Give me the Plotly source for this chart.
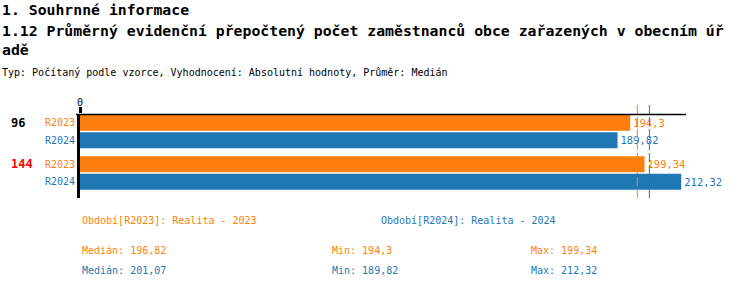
import numpy as np
import plotly.graph_objects as go

# ---------------- data ----------------
groups = ["96", "144"]
group_colors = ["#000000", "#ff0000"]
series_names = ["R2023", "R2024"]
series_desc = ["Období[R2023]: Realita - 2023", "Období[R2024]: Realita - 2024"]
series_colors = ["#ff7f0e", "#1f77b4"]
values_r2023 = [194.3, 199.34]
values_r2024 = [189.82, 212.32]
series_values = [values_r2023, values_r2024]
x_tick_values = [0]
x_tick_labels = ["0"]

title1 = "1. Souhrnné informace"
title2a = "1.12 Průměrný evidenční přepočtený počet zaměstnanců obce zařazených v obecním úř"
title2b = "adě"
subtitle = "Typ: Počítaný podle vzorce, Vyhodnocení: Absolutní hodnoty, Průměr: Medián"

# ---------------- layout geometry ----------------
W, H = 750, 288
L, R, T, B = 80, 686, 114, 198
FONT = "DejaVu Sans Mono"
XMAX = 214
BAR_STEP = 17.5
GROUP_STEP = 41.5
FIRST = 8.75
BAR_W = 16


def px(x):
    return (x - L) / (R - L)


def py(y):
    return (B - y) / (B - T)


def fmt(v):
    s = f"{v:.2f}".rstrip("0").rstrip(".")
    return s.replace(".", ",")


fig = go.Figure()
annotations = []

for si, (name, color, vals) in enumerate(zip(series_names, series_colors, series_values)):
    ys = [FIRST + gi * GROUP_STEP + si * BAR_STEP for gi in range(len(groups))]
    fig.add_trace(go.Bar(
        x=vals, y=ys, orientation="h", width=BAR_W,
        marker=dict(color=color, line=dict(width=0)),
        text=[fmt(v) for v in vals], textposition="outside",
        textfont=dict(family=FONT, size=10.5, color=color),
        constraintext="none", cliponaxis=False, name=name,
        hoverinfo="skip",
    ))
    for gi, y in enumerate(ys):
        annotations.append(dict(
            xref="paper", yref="y", x=px(77), y=y, text=name, showarrow=False,
            xanchor="right", yanchor="middle",
            font=dict(family=FONT, size=10, color=color)))

for gi, (g, gc) in enumerate(zip(groups, group_colors)):
    y = FIRST + gi * GROUP_STEP
    annotations.append(dict(
        xref="paper", yref="y", x=px(9), y=y, text=f"<b>{g}</b>", showarrow=False,
        xanchor="left", yanchor="middle",
        font=dict(family=FONT, size=12, color=gc)))

# x tick label(s) above the axis
for tv, tl in zip(x_tick_values, x_tick_labels):
    annotations.append(dict(
        xref="x", yref="paper", x=tv, y=py(102), text=tl, showarrow=False,
        xanchor="center", yanchor="middle",
        font=dict(family=FONT, size=10, color="#000")))

# titles
annotations += [
    dict(xref="paper", yref="paper", x=px(0), y=py(9), text=f"<b>{title1}</b>",
         showarrow=False, xanchor="left", yanchor="middle",
         font=dict(family=FONT, size=14.8, color="#000")),
    dict(xref="paper", yref="paper", x=px(0), y=py(30), text=f"<b>{title2a}</b>",
         showarrow=False, xanchor="left", yanchor="middle",
         font=dict(family=FONT, size=14.8, color="#000")),
    dict(xref="paper", yref="paper", x=px(0), y=py(49), text=f"<b>{title2b}</b>",
         showarrow=False, xanchor="left", yanchor="middle",
         font=dict(family=FONT, size=14.8, color="#000")),
    dict(xref="paper", yref="paper", x=px(0), y=py(72), text=subtitle,
         showarrow=False, xanchor="left", yanchor="middle",
         font=dict(family=FONT, size=10, color="#000")),
]

# legend + stats
legend_x = [80, 379]
shapes = []
for si, (desc, color, vals) in enumerate(zip(series_desc, series_colors, series_values)):
    annotations.append(dict(
        xref="paper", yref="paper", x=px(legend_x[si]), y=py(220), text=desc,
        showarrow=False, xanchor="left", yanchor="middle",
        font=dict(family=FONT, size=10, color=color)))
    med = float(np.median(vals))
    mn = float(np.min(vals))
    mx = float(np.max(vals))
    row_y = 250 + si * 20
    for sx, label in zip([80, 330, 529],
                         [f"Medián: {fmt(med)}", f"Min: {fmt(mn)}", f"Max: {fmt(mx)}"]):
        annotations.append(dict(
            xref="paper", yref="paper", x=px(sx), y=py(row_y), text=label,
            showarrow=False, xanchor="left", yanchor="middle",
            font=dict(family=FONT, size=10, color=color)))
    shapes.append(dict(
        type="line", xref="x", yref="paper", x0=med, x1=med, y0=0, y1=py(104),
        line=dict(color=color, width=1, dash="9px,3px"), layer="above"))

# top horizontal axis line (extends slightly left)
shapes.append(dict(type="line", xref="paper", yref="paper", x0=px(76), x1=px(686),
                   y0=py(114.5), y1=py(114.5), line=dict(color="#000", width=1.5),
                   layer="above"))

fig.update_layout(
    width=W, height=H,
    margin=dict(l=L, r=W - R, t=T, b=H - B, pad=0),
    paper_bgcolor="white", plot_bgcolor="white",
    showlegend=False, barmode="overlay",
    annotations=annotations, shapes=shapes,
    xaxis=dict(range=[0, XMAX], side="top", tickvals=x_tick_values,
               ticks="outside", ticklen=6, tickwidth=3, tickcolor="#000",
               showticklabels=False,
               showgrid=False, zeroline=False, showline=False, fixedrange=True),
    yaxis=dict(range=[B - T, 0], showticklabels=False, ticks="",
               showgrid=False, zeroline=False, showline=True,
               linecolor="#000", linewidth=3, fixedrange=True),
)

fig.write_html("out.html")
